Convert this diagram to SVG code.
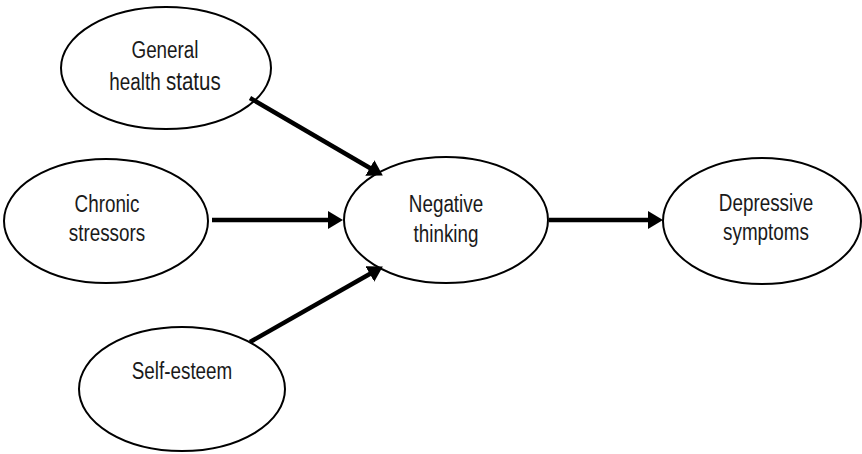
<svg xmlns="http://www.w3.org/2000/svg" width="862" height="454" viewBox="0 0 862 454">
<style>
.node ellipse{fill:#fff;stroke:#000;stroke-width:2}
.node text{font-family:"Liberation Sans",Arial,sans-serif;font-size:23px;fill:#1a1a1a;text-anchor:middle}
.edge{stroke:#000;stroke-width:4.5;fill:none;marker-end:url(#ah)}
</style>
<defs>
<marker id="ah" markerUnits="userSpaceOnUse" viewBox="0 0 15 18" markerWidth="15" markerHeight="18" refX="7" refY="9" orient="auto">
<path d="M0,0 L15,9 L0,18 z" fill="#000"/>
</marker>
</defs>
<rect width="862" height="454" fill="#fff"/>
<g id="n-health" class="node">
<ellipse cx="166" cy="68" rx="105" ry="61"/>
<text transform="translate(165,0) scale(0.82,1)" x="0" y="58">General</text>
<text transform="translate(165,0) scale(0.82,1)" x="0" y="90">health <tspan font-size="25">status</tspan></text>
</g>
<g id="n-chronic" class="node">
<ellipse cx="106" cy="221" rx="102" ry="62"/>
<text transform="translate(107,0) scale(0.82,1)" x="0" y="212">Chronic</text>
<text transform="translate(107,0) scale(0.82,1)" x="0" y="241">stressors</text>
</g>
<g id="n-self" class="node">
<ellipse cx="182" cy="389" rx="103" ry="62"/>
<text transform="translate(182,0) scale(0.82,1)" x="0" y="379">Self-esteem</text>
</g>
<g id="n-negative" class="node">
<ellipse cx="446" cy="220" rx="102" ry="63"/>
<text transform="translate(446,0) scale(0.82,1)" x="0" y="212">Negative</text>
<text transform="translate(446,0) scale(0.82,1)" x="0" y="242">thinking</text>
</g>
<g id="n-depressive" class="node">
<ellipse cx="762" cy="221" rx="99" ry="63"/>
<text transform="translate(766,0) scale(0.82,1)" x="0" y="211">Depressive</text>
<text transform="translate(766,0) scale(0.82,1)" x="0" y="240">symptoms</text>
</g>
<g id="connectors">
<line class="edge" x1="250" y1="98" x2="375.9" y2="171.5"/>
<line class="edge" x1="212" y1="220" x2="335" y2="220"/>
<line class="edge" x1="250" y1="342" x2="375.9" y2="270.5"/>
<line class="edge" x1="549" y1="220" x2="655" y2="220"/>
</g>
</svg>
